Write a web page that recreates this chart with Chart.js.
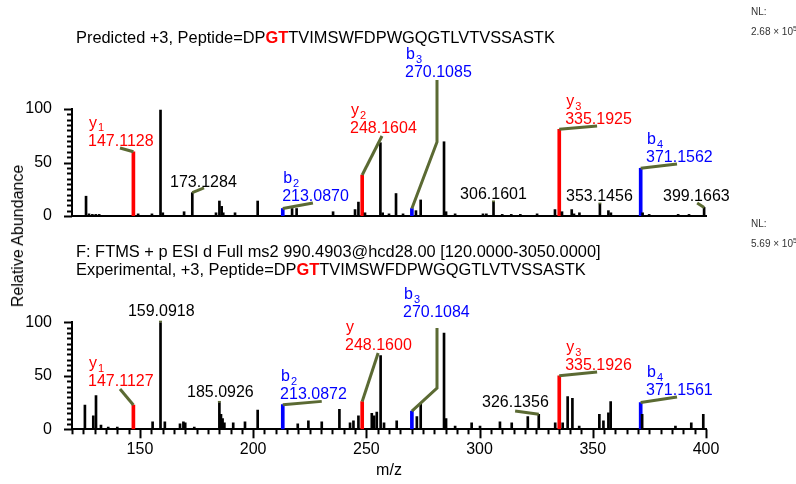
<!DOCTYPE html>
<html>
<head>
<meta charset="utf-8">
<script src="https://cdn.jsdelivr.net/npm/chart.js@4.4.1/dist/chart.umd.min.js"></script>
<style>
  body { margin: 0; width: 796px; height: 484px; position: relative; background: #fff; overflow: hidden;
         font-family: Arial, "Liberation Sans", sans-serif; }
  canvas { position: absolute; left: 0; }
  #topChart { top: 0; }
  #bottomChart { top: 240px; }
  .txt { position: absolute; left: 76px; white-space: nowrap; font-size: 16.4px; line-height: 16px; color: #000; }
  .gt { color: #f00; font-weight: bold; }
  .nl { position: absolute; left: 751px; white-space: nowrap; font-size: 10px; line-height: 10px; color: #333; }
  .nl sup { font-size: 7px; vertical-align: 4px; line-height: 0; }
  #yTitle { position: absolute; left: 18px; top: 236px; transform: translate(-50%, -50%) rotate(-90deg);
            white-space: nowrap; font-size: 16px; }
</style>
</head>
<body>
<canvas id="topChart" width="796" height="240"></canvas>
<canvas id="bottomChart" width="796" height="244"></canvas>

<div class="txt" style="top:29px">Predicted +3, Peptide=DP<span class="gt">GT</span>TVIMSWFDPWGQGTLVTVSSASTK</div>
<div class="nl" style="top:7px">NL:</div>
<div class="nl" style="top:27px">2.68 × 10<sup>5</sup></div>

<div class="txt" style="top:243px">F: FTMS + p ESI d Full ms2 990.4903@hcd28.00 [120.0000-3050.0000]</div>
<div class="txt" style="top:261px">Experimental, +3, Peptide=DP<span class="gt">GT</span>TVIMSWFDPWGQGTLVTVSSASTK</div>
<div class="nl" style="top:219px">NL:</div>
<div class="nl" style="top:239px">5.69 × 10<sup>5</sup></div>

<div id="yTitle">Relative Abundance</div>

<script>
// predicted spectrum (top)
const predMz = [126.2, 127.5, 129.0, 130.5, 132.0, 147.1128, 149.2, 155.3, 159.0918, 160.1,
  169.5, 173.1284, 183.6, 185.1, 186.1, 186.8, 192.0, 202.0, 213.0870, 217.2,
  219.2, 235.3, 245.0, 246.5, 248.1604, 249.4, 256.2, 257.2, 260.0, 263.1,
  266.2, 270.1085, 271.9, 274.0, 284.3, 285.2, 289.2, 301.5, 303.0, 306.1601,
  310.0, 314.0, 318.0, 325.4, 333.3, 335.1925, 336.4, 340.7, 341.7, 344.1,
  353.1456, 356.9, 358.0, 371.1562, 372.0, 374.9, 387.7, 392.5, 399.1663];
const predAbund = [18.5, 2, 1.5, 1.5, 1.5, 60, 2, 2, 99, 3,
  4, 21.8, 3, 14, 9, 3, 3, 14, 7, 7,
  7, 4, 6, 13, 38.3, 3, 68.5, 3, 2, 21,
  2, 7, 5, 15, 69.4, 4, 2, 2, 2, 13,
  1.5, 1.5, 1.5, 2, 6, 81, 4, 6, 2, 3,
  11, 5, 3, 44.6, 3, 1.5, 1.5, 1.5, 8];
const predIon = ['', '', '', '', '', 'y', '', '', '', '',
  '', '', '', '', '', '', '', '', 'b', '',
  '', '', '', '', 'y', '', '', '', '', '',
  '', 'b', '', '', '', '', '', '', '', '',
  '', '', '', '', '', 'y', '', '', '', '',
  '', '', '', 'b', '', '', '', '', ''];

// experimental spectrum (bottom)
const expMz = [125.7, 129.4, 130.6, 132.8, 136.0, 140.0, 147.1127, 155.6, 159.0918, 161.0,
  167.7, 169.2, 170.0, 174.0, 185.0926, 185.8, 186.5, 187.3, 191.2, 196.4,
  202.0, 213.0872, 219.7, 224.4, 230.3, 238.1, 242.8, 244.3, 246.5, 248.1600,
  252.4, 253.4, 254.6, 256.3, 257.8, 263.4, 270.1084, 272.3, 274.0, 284.3,
  285.2, 289.2, 296.5, 300.2, 309.0, 314.2, 321.3, 326.1356, 333.4, 335.1926,
  336.7, 338.9, 341.0, 344.0, 352.9, 354.7, 356.9, 357.9, 371.1561, 371.8,
  386.5, 393.5, 398.8];
const expAbund = [22.7, 12.7, 31.4, 4, 2, 2, 22.7, 7, 100, 7,
  5, 7, 6, 2, 25, 14, 10, 6, 6, 7,
  18, 23, 5, 8, 7, 18.7, 6, 8, 12.7, 26,
  15, 12.7, 16, 69, 6, 8, 17, 12, 24, 90,
  10, 3, 6, 3, 7, 6, 12, 14, 6, 50,
  6, 30.5, 29, 3, 14, 8, 15.5, 26, 25, 14,
  3, 6, 14];
const expIon = ['', '', '', '', '', '', 'y', '', '', '',
  '', '', '', '', '', '', '', '', '', '',
  '', 'b', '', '', '', '', '', '', '', 'y',
  '', '', '', '', '', '', 'b', '', '', '',
  '', '', '', '', '', '', '', '', '', 'y',
  '', '', '', '', '', '', '', '', 'b', '',
  '', '', ''];

const xTicks = [150, 200, 250, 300, 350, 400];
const yTicks = [0, 50, 100];

const RED = '#ff0000';
const BLUE = '#0000ff';
const LEADER = '#5b6a33';

// peak annotations: label anchor (lx, ly) and leader bends in m/z / abundance units
const predLabels = [
  { mz: 147.1128, ion: 'y', sub: '1', color: RED, lx: 127.1, ly: 70, path: [[141.2, 63.6]] },
  { mz: 173.1284, lx: 163.3, ly: 30.8, path: [[178.3, 26.2]] },
  { mz: 213.0870, ion: 'b', sub: '2', color: BLUE, lx: 212.8, ly: 17.8, path: [[226.4, 12.1]] },
  { mz: 248.1604, ion: 'y', sub: '2', color: RED, lx: 242.8, ly: 81.3, path: [[256.9, 74.8]] },
  { mz: 270.1085, ion: 'b', sub: '3', color: BLUE, lx: 267.1, ly: 133.6, path: [[281.2, 69.2], [281.2, 127]] },
  { mz: 306.1601, lx: 291.4, ly: 19.6, path: [[306.1601, 14.5]] },
  { mz: 335.1925, ion: 'y', sub: '3', color: RED, lx: 337.8, ly: 89.7, path: [[351.9, 84.1]] },
  { mz: 353.1456, lx: 338.2, ly: 17.8, path: [[353.1456, 12.5]] },
  { mz: 371.1562, ion: 'b', sub: '4', color: BLUE, lx: 373.5, ly: 54.2, path: [[387.2, 48.6]] },
  { mz: 399.1663, lx: 381, ly: 17.8, path: [[396.1, 12.1]] }
];
const expLabels = [
  { mz: 147.1127, ion: 'y', sub: '1', color: RED, lx: 127.1, ly: 44.2, path: [[141.2, 37.7]] },
  { mz: 159.0918, lx: 144.7, ly: 110, path: [[159.0918, 101.5]] },
  { mz: 185.0926, lx: 170.8, ly: 34, path: [[185.0926, 26.5]] },
  { mz: 213.0872, ion: 'b', sub: '2', color: BLUE, lx: 211.9, ly: 32, path: [[230.3, 26.1]] },
  { mz: 248.1600, ion: 'y', sub: '', color: RED, lx: 240.6, ly: 77.8, path: [[255.2, 71.3]] },
  { mz: 270.1084, ion: 'b', sub: '3', color: BLUE, lx: 266.2, ly: 108.7, path: [[281.2, 38.6], [281.2, 94.7]] },
  { mz: 326.1356, lx: 301.1, ly: 24.6, path: [[315.7, 17.1]] },
  { mz: 335.1926, ion: 'y', sub: '3', color: RED, lx: 337.8, ly: 59.2, path: [[351.9, 53.6]] },
  { mz: 371.1561, ion: 'b', sub: '4', color: BLUE, lx: 373.5, ly: 35.8, path: [[387.2, 30.2]] }
];

const FONT = 'Arial, "Liberation Sans", sans-serif';

function makeDatasets(mz, abund, ion) {
  const pick = (type) => mz.map((m, i) => ({ x: m, y: abund[i], t: ion[i] })).filter(p => p.t === type);
  return [
    { data: pick(''), backgroundColor: '#000', barThickness: 2 },
    { data: pick('y'), backgroundColor: RED, barThickness: 3 },
    { data: pick('b'), backgroundColor: BLUE, barThickness: 3 }
  ];
}

const spectrumDecor = {
  id: 'spectrumDecor',
  afterDraw(chart, args, opts) {
    const ctx = chart.ctx;
    const xs = chart.scales.x;
    const ys = chart.scales.y;
    const ds = chart.data.datasets;
    ctx.save();
    ctx.strokeStyle = '#000';
    ctx.lineWidth = 2;
    // y minor / major ticks
    for (let v = 0; v <= 100; v += 5) {
      const py = Math.round(ys.getPixelForValue(v)) + 0.5;
      const len = v % 50 === 0 ? 8 : 5;
      ctx.beginPath();
      ctx.moveTo(xs.left - len, py);
      ctx.lineTo(xs.left, py);
      ctx.stroke();
    }
    if (opts.xTicks) {
      for (let m = 120; m <= 400; m += 5) {
        const px = Math.round(xs.getPixelForValue(m)) + 0.5;
        const len = m % 50 === 0 ? 9 : 5;
        ctx.beginPath();
        ctx.moveTo(px, ys.bottom);
        ctx.lineTo(px, ys.bottom + len);
        ctx.stroke();
      }
    }
    // leader lines
    ctx.strokeStyle = LEADER;
    ctx.lineWidth = 3;
    opts.labels.forEach(a => {
      let top = 0;
      ds.forEach(d => d.data.forEach(p => { if (p.x === a.mz) top = p.y; }));
      ctx.beginPath();
      ctx.moveTo(xs.getPixelForValue(a.mz), ys.getPixelForValue(top));
      a.path.forEach(p => ctx.lineTo(xs.getPixelForValue(p[0]), ys.getPixelForValue(p[1])));
      ctx.stroke();
    });
    // label text
    ctx.textAlign = 'left';
    ctx.textBaseline = 'middle';
    opts.labels.forEach(a => {
      const x = xs.getPixelForValue(a.lx);
      const y = ys.getPixelForValue(a.ly);
      ctx.fillStyle = a.color || '#000';
      ctx.font = '16px ' + FONT;
      ctx.fillText(a.mz.toFixed(4), x, y);
      if (a.ion) {
        ctx.fillText(a.ion, x + 1, y - 18);
        if (a.sub) {
          const w = ctx.measureText(a.ion).width;
          ctx.font = '11px ' + FONT;
          ctx.fillText(a.sub, x + 2 + w, y - 13);
        }
      }
    });
    ctx.restore();
  }
};

function makeChart(id, datasets, labels, cfg) {
  return new Chart(document.getElementById(id), {
    type: 'bar',
    data: { datasets: datasets },
    plugins: [spectrumDecor],
    options: {
      responsive: false,
      animation: false,
      layout: { padding: { top: cfg.padTop, right: 90, left: 0, bottom: 0 } },
      datasets: { bar: { grouped: false } },
      plugins: {
        legend: { display: false },
        tooltip: { enabled: false },
        spectrumDecor: { labels: labels, xTicks: cfg.showX }
      },
      scales: {
        x: {
          type: 'linear',
          min: 120,
          max: 400,
          offset: false,
          afterFit: s => { s.height = cfg.xHeight; },
          afterBuildTicks: s => { s.ticks = xTicks.map(v => ({ value: v })); },
          grid: { display: false, offset: false },
          border: { display: true, color: '#000', width: 2 },
          ticks: { display: cfg.showX, padding: 3, color: '#000', font: { size: 16, family: FONT }, maxRotation: 0, autoSkip: false },
          title: { display: cfg.showX, text: 'm/z', color: '#000', font: { size: 16, family: FONT }, padding: { top: 0, bottom: 4 } }
        },
        y: {
          min: 0,
          max: 100,
          afterFit: s => { s.width = 72; },
          afterBuildTicks: s => { s.ticks = yTicks.map(v => ({ value: v })); },
          grid: { display: false },
          border: { display: true, color: '#000', width: 2 },
          ticks: { padding: 12, color: '#000', font: { size: 16, family: FONT } }
        }
      }
    }
  });
}

makeChart('topChart', makeDatasets(predMz, predAbund, predIon), predLabels,
  { padTop: 109, xHeight: 24, showX: false });
makeChart('bottomChart', makeDatasets(expMz, expAbund, expIon), expLabels,
  { padTop: 82.3, xHeight: 54.7, showX: true });
</script>
</body>
</html>
